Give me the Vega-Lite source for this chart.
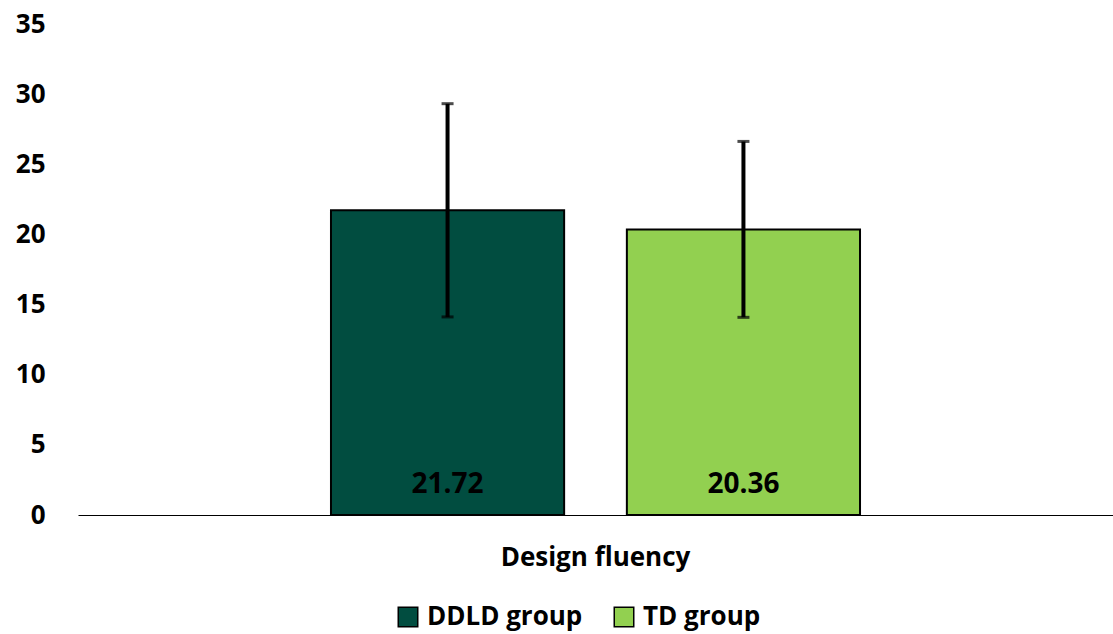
{
  "$schema": "https://vega.github.io/schema/vega-lite/v6.json",
  "width": 1035,
  "height": 491,
  "autosize": {"type": "none"},
  "padding": {"left": 78, "top": 24, "right": 0, "bottom": 119},
  "background": "white",
  "config": {
    "view": {"stroke": null},
    "font": "Open Sans",
    "axis": {"labelFont": "Open Sans", "labelFontWeight": "bold", "labelFontSize": 26, "labelColor": "black", "grid": false, "ticks": false, "labelLimit": 0},
    "legend": {"labelFont": "Open Sans", "labelFontWeight": "bold", "labelFontSize": 26, "labelColor": "black", "labelLimit": 0}
  },
  "data": {
    "values": [
      {"category": "Design fluency", "group": "DDLD group", "mean": 21.72, "lower": 14.12, "upper": 29.32},
      {"category": "Design fluency", "group": "TD group", "mean": 20.36, "lower": 14.09, "upper": 26.63}
    ]
  },
  "encoding": {
    "x": {
      "field": "category", "type": "nominal",
      "scale": {"paddingInner": 0, "paddingOuter": 0},
      "axis": {"title": null, "labelAngle": 0, "labelPadding": 29, "labelLimit": 0, "domain": true, "domainColor": "black", "domainWidth": 1}
    },
    "xOffset": {
      "field": "group", "type": "nominal",
      "scale": {"paddingInner": 0.212, "paddingOuter": 0.855}
    }
  },
  "layer": [
    {
      "mark": {"type": "bar", "stroke": "black", "strokeWidth": 2},
      "encoding": {
        "y": {
          "field": "mean", "type": "quantitative",
          "scale": {"domain": [0, 35], "nice": false},
          "axis": {"title": null, "values": [0, 5, 10, 15, 20, 25, 30, 35], "domain": false, "labelPadding": 33}
        },
        "color": {
          "field": "group", "type": "nominal",
          "scale": {"domain": ["DDLD group", "TD group"], "range": ["#014D40", "#92D050"]},
          "legend": {
            "title": null, "orient": "none", "direction": "horizontal",
            "legendX": 317, "legendY": 580,
            "symbolType": "square", "symbolSize": 380, "symbolStrokeColor": "black", "symbolStrokeWidth": 1.5,
            "labelOffset": 6, "columnPadding": 28, "labelLimit": 0
          }
        }
      }
    },
    {
      "mark": {"type": "rule", "color": "black", "strokeWidth": 4},
      "encoding": {
        "y": {"field": "lower", "type": "quantitative"},
        "y2": {"field": "upper"}
      }
    },
    {
      "mark": {"type": "tick", "color": "black", "size": 12, "thickness": 3, "orient": "horizontal"},
      "encoding": {"y": {"field": "lower", "type": "quantitative"}}
    },
    {
      "mark": {"type": "tick", "color": "black", "size": 12, "thickness": 3, "orient": "horizontal"},
      "encoding": {"y": {"field": "upper", "type": "quantitative"}}
    },
    {
      "mark": {"type": "text", "font": "Open Sans", "fontSize": 28, "fontWeight": "bold", "color": "black", "baseline": "middle", "dy": -30},
      "encoding": {
        "y": {"datum": 0, "type": "quantitative"},
        "text": {"field": "mean", "type": "quantitative", "format": ".2f"}
      }
    }
  ]
}
